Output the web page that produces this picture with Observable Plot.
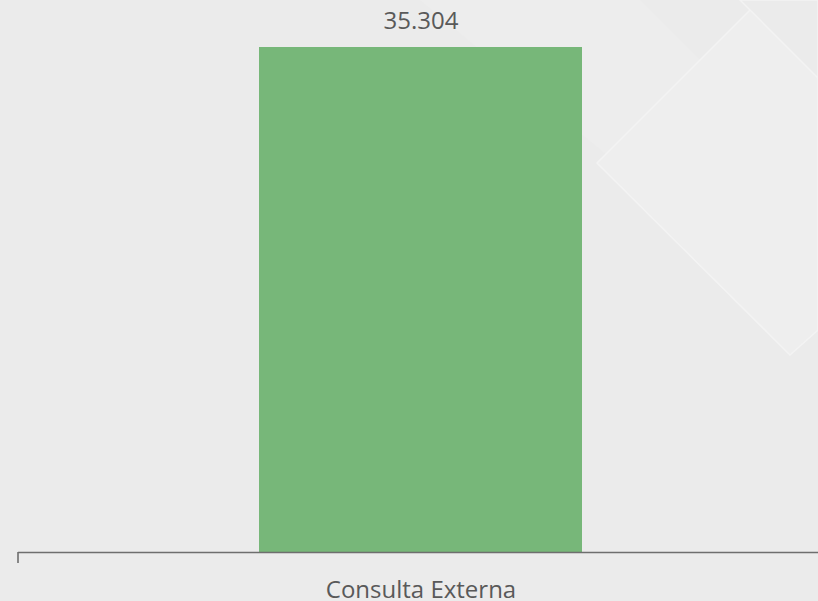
<!DOCTYPE html>
<html>
<head>
<meta charset="utf-8">
<script src="https://cdn.jsdelivr.net/npm/d3@7"></script>
<script src="https://cdn.jsdelivr.net/npm/@observablehq/plot@0.6"></script>
<style>
  html, body { margin: 0; padding: 0; background: #ebebeb; }
  #wrap { position: relative; width: 818px; height: 601px; overflow: hidden; background: #ebebeb; }
  #deco { position: absolute; left: 0; top: 0; }
  #chart { position: absolute; left: 0; top: 0; }
</style>
</head>
<body>
<div id="wrap">
  <svg id="deco" width="818" height="601">
    <polygon points="420,0 640,0 818,178 818,330" fill="#ededed"/>
    <polygon points="597,163 760,0 818,0 818,330 790,355" fill="#eeeeee" stroke="#f3f3f3" stroke-width="1.5"/>
    <polygon points="740,0 818,78 818,0" fill="#ebebeb" stroke="#f3f3f3" stroke-width="1.5"/>
  </svg>
  <div id="chart"></div>
</div>
<script>
const categories = ["Consulta Externa"];
const values = [35304];
const valueLabels = ["35.304"];

const data = categories.map((c, i) => ({category: c, value: values[i], label: valueLabels[i]}));

const font = "'Open Sans', sans-serif";

const plot = Plot.plot({
  width: 818,
  height: 601,
  marginTop: 47,
  marginBottom: 49,
  marginLeft: 18,
  marginRight: 0,
  style: {background: "transparent", fontFamily: font, color: "#595959"},
  x: {domain: categories, range: [23, 818], padding: 0.422, label: null},
  y: {axis: null, nice: false},
  marks: [
    Plot.barY(data, {x: "category", y: "value", fill: "#77b779"}),
    Plot.text(data, {x: "category", y: "value", text: "label", dy: -26, fontSize: 24, fill: "#595959", fontFamily: font}),
    Plot.ruleY([0], {stroke: "#6e6e6e", strokeWidth: 1.6}),
    (index, scales, values, dims) => {
      const g = d3.create("svg:g");
      g.append("line")
        .attr("x1", dims.marginLeft).attr("x2", dims.marginLeft)
        .attr("y1", dims.height - dims.marginBottom).attr("y2", dims.height - dims.marginBottom + 11)
        .attr("stroke", "#6e6e6e").attr("stroke-width", 1.6);
      return g.node();
    },
    Plot.axisX({tickSize: 0, tickPadding: 28, fontSize: 24, label: null, fill: "#595959", fontFamily: font})
  ]
});
document.getElementById("chart").appendChild(plot);
</script>
</body>
</html>
